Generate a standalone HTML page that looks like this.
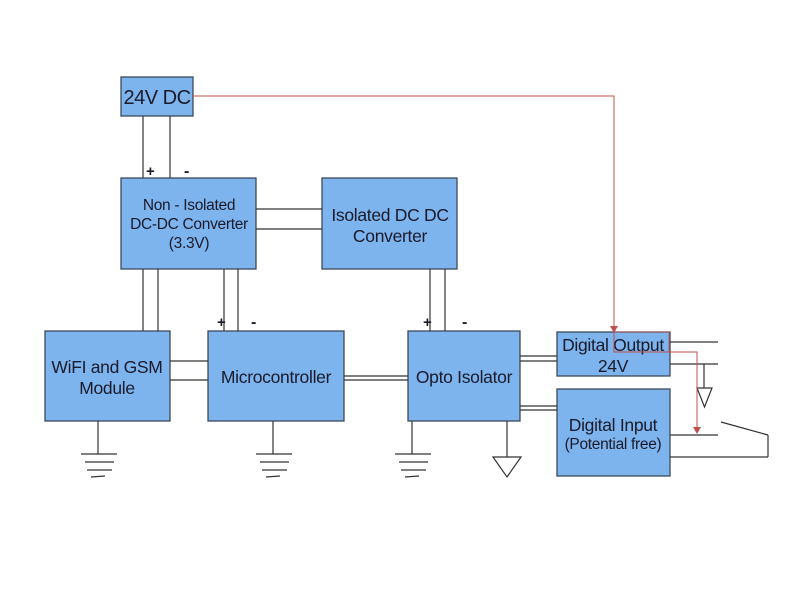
<!DOCTYPE html>
<html><head><meta charset="utf-8"><style>
html,body{margin:0;padding:0;background:#fff;}
svg{display:block;}
text{font-family:"Liberation Sans",sans-serif;fill:#1a1a2a;}
</style></head><body>
<svg width="800" height="600" viewBox="0 0 800 600" xmlns="http://www.w3.org/2000/svg">
<g fill="#7db4ee" stroke="#3d4a5a" stroke-width="1.3">
<rect x="121" y="77" width="72" height="39"/>
<rect x="121" y="178" width="135" height="91"/>
<rect x="322" y="178" width="135" height="91"/>
<rect x="45" y="331" width="125" height="90"/>
<rect x="208" y="331" width="136" height="90"/>
<rect x="408" y="331" width="112" height="90"/>
<rect x="557" y="332" width="113" height="44"/>
<rect x="557" y="389" width="113" height="87"/>
</g>
<g stroke="#333" stroke-width="1.2" fill="none">
<line x1="143" y1="116" x2="143" y2="178"/>
<line x1="170" y1="116" x2="170" y2="178"/>
<line x1="256" y1="209" x2="322" y2="209"/>
<line x1="256" y1="229" x2="322" y2="229"/>
<line x1="143" y1="269" x2="143" y2="331"/>
<line x1="158" y1="269" x2="158" y2="331"/>
<line x1="224" y1="269" x2="224" y2="331"/>
<line x1="238" y1="269" x2="238" y2="331"/>
<line x1="430" y1="269" x2="430" y2="331"/>
<line x1="445" y1="269" x2="445" y2="331"/>
<line x1="170" y1="361" x2="208" y2="361"/>
<line x1="170" y1="380" x2="208" y2="380"/>
<line x1="344" y1="376" x2="408" y2="376"/>
<line x1="344" y1="380" x2="408" y2="380"/>
<line x1="520" y1="356" x2="557" y2="356"/>
<line x1="520" y1="361" x2="557" y2="361"/>
<line x1="520" y1="406" x2="557" y2="406"/>
<line x1="520" y1="410" x2="557" y2="410"/>
<line x1="670" y1="342" x2="718" y2="342"/>
<line x1="670" y1="364" x2="718" y2="364"/>
<line x1="704" y1="364" x2="704" y2="388"/>
<polygon points="697,388 712,388 704.5,407"/>
<line x1="670" y1="435" x2="718" y2="435"/>
<line x1="670" y1="457" x2="768" y2="457"/>
<line x1="721" y1="422" x2="768" y2="435"/>
<line x1="768" y1="435" x2="768" y2="457"/>
<line x1="98" y1="421" x2="98" y2="454"/>
<line x1="81" y1="454" x2="117" y2="454"/><line x1="85" y1="462" x2="114" y2="462"/><line x1="87" y1="470" x2="112" y2="470"/><line x1="91" y1="477" x2="105" y2="476"/>
<line x1="273" y1="421" x2="273" y2="454"/>
<line x1="256" y1="454" x2="292" y2="454"/><line x1="260" y1="462" x2="289" y2="462"/><line x1="262" y1="470" x2="287" y2="470"/><line x1="266" y1="477" x2="280" y2="476"/>
<line x1="412" y1="421" x2="412" y2="454"/>
<line x1="395" y1="454" x2="431" y2="454"/><line x1="399" y1="462" x2="428" y2="462"/><line x1="401" y1="470" x2="426" y2="470"/><line x1="405" y1="477" x2="419" y2="476"/>
<line x1="507" y1="421" x2="507" y2="457"/>
<polygon points="493,457 521,457 507,477"/>
</g>
<g stroke="#c0504d" stroke-width="1" fill="none">
<polyline points="193,96 614,96 614,328"/>
<polyline points="614,332 614,352 697,352 697,429"/>
</g>
<g fill="#c0504d">
<polygon points="610,326 618,326 614,333"/>
<polygon points="693,427 701,427 697,434"/>
</g>
<g font-size="16" font-weight="bold">
<text x="146" y="176" font-size="15">+</text><text x="184" y="176">-</text>
<text x="217" y="327" font-size="15">+</text><text x="251" y="327">-</text>
<text x="423" y="327" font-size="15">+</text><text x="462" y="327">-</text>
</g>
<text x="157" y="104" font-size="20" text-anchor="middle" letter-spacing="-0.5">24V DC</text>
<g font-size="15.5" text-anchor="middle" letter-spacing="-0.3">
<text x="189" y="210">Non - Isolated</text>
<text x="189" y="229">DC-DC Converter</text>
<text x="189" y="248">(3.3V)</text>
</g>
<g font-size="17.5" text-anchor="middle" letter-spacing="-0.3">
<text x="390" y="221">Isolated DC DC</text>
<text x="390" y="242">Converter</text>
<text x="107" y="373">WiFI and GSM</text>
<text x="107" y="394">Module</text>
<text x="276" y="383">Microcontroller</text>
<text x="464" y="383">Opto Isolator</text>
<text x="613" y="351">Digital Output</text>
<text x="613" y="372">24V</text>
<text x="613" y="431">Digital Input</text>
</g>
<text x="613" y="449" font-size="15.5" text-anchor="middle" letter-spacing="-0.3">(Potential free)</text>
<rect x="614" y="332" width="55" height="20" fill="none" stroke="#c0504d" stroke-width="0.8"/>
</svg>
</body></html>
